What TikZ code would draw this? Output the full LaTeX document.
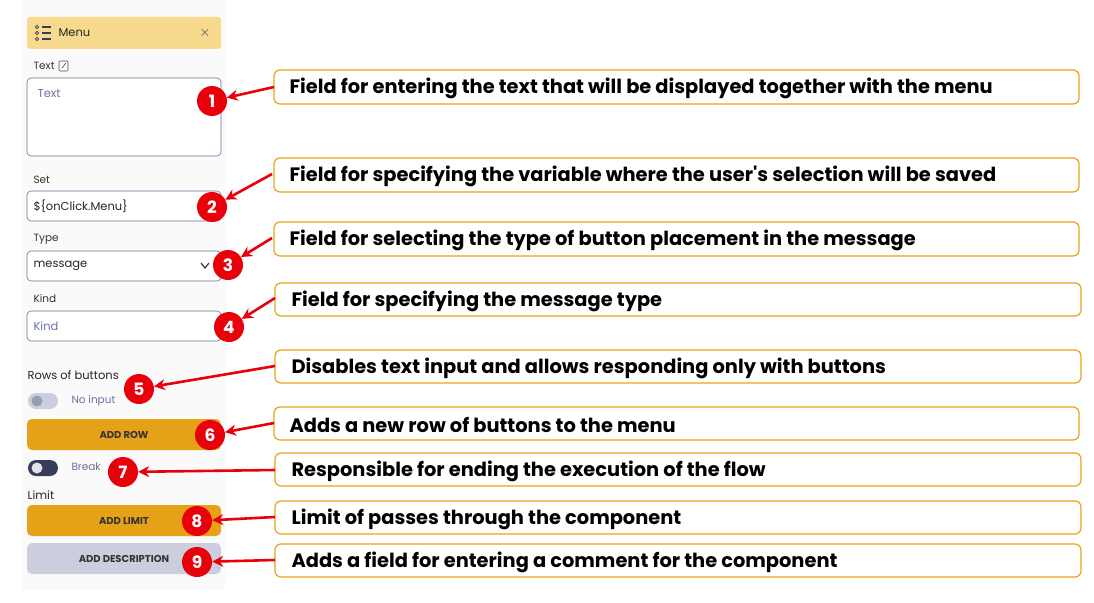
\documentclass[tikz,border=0pt]{standalone}
\usepackage{fontspec}
\setmainfont{Poppins}
\usetikzlibrary{arrows.meta}
\definecolor{hdr}{HTML}{F7DA8E}
\definecolor{amber}{HTML}{E5A118}
\definecolor{greybtn}{HTML}{CACEDD}
\definecolor{frame}{HTML}{6A7094}
\definecolor{hint}{HTML}{6A73A8}
\definecolor{knob}{HTML}{353D5A}
\definecolor{mark}{HTML}{E8000B}
\definecolor{callline}{HTML}{E8A317}
\tikzset{
  callout/.style={draw=callline, line width=1.2pt, rounded corners=6pt, fill=white},
  calltext/.style={anchor=west, yshift=-1.5pt, font=\fontsize{19.4}{21}\selectfont\bfseries},
  badge/.style={circle, fill=mark, text=white, minimum size=30pt, inner sep=0pt, font=\fontsize{17}{19}\selectfont\bfseries},
  pointer/.style={draw=mark, line width=2.6pt, -{Stealth[length=11pt,width=11pt]}},
  field/.style={draw=frame, line width=0.6pt, rounded corners=4pt, fill=white},
  small/.style={anchor=west, font=\fontsize{10.5}{12}\selectfont, text=black!80},
  mid/.style={anchor=west, font=\fontsize{11.5}{13}\selectfont, text=black!85},
  btn/.style={rounded corners=5pt, font=\fontsize{10}{12}\selectfont\bfseries, text=black!80}
}
\begin{document}
\begin{tikzpicture}[x=1pt,y=-1pt]
\useasboundingbox (0,0) rectangle (1094,602);
\fill[black!2] (22,0) rectangle (225,590);

% panel
\fill[hdr, rounded corners=3pt] (27,17) rectangle (221,49);
\node[mid] (menu) at (55,33) {Menu};
\foreach \yy in {27,33,39} {
  \draw[knob, line width=0.8pt] (37,\yy) circle (1.6pt);
  \draw[knob, line width=1.1pt] (42,\yy) -- (51,\yy);
}
\node[font=\fontsize{15}{16}\selectfont\bfseries, text=knob] (close) at (205,33) {$\times$};
\node[small] (ltext) at (30,66) {Text};
\draw[black!70, line width=0.6pt, rounded corners=1pt] (59,61) rectangle (68,71);
\draw[black!70, line width=0.6pt] (62,68) -- (66,63);
\draw[field] (27,78) rectangle (221,156);
\node[mid, text=hint] (ptext) at (34,94) {Text};
\node[small] (lset) at (30,180) {Set};
\draw[field] (27,191) rectangle (221,221);
\node[mid] (vset) at (30,206) {\$\{onClick.Menu\}};
\node[small] (ltype) at (30,239) {Type};
\draw[field] (27,251) rectangle (221,281);
\node[mid] (vtype) at (30,266) {message};
\draw[line width=1.2pt, knob] (201,263) -- (205,268) -- (209,263);
\node[small] (lkind) at (30,299) {Kind};
\draw[field] (27,311) rectangle (221,341);
\node[mid, text=hint] (pkind) at (30,326) {Kind};
\node[mid] (lrows) at (24,375) {Rows of buttons};
\fill[greybtn, rounded corners=8pt] (28,393) rectangle (58,409);
\fill[frame!70] (37,401) circle (5.5pt);
\node[small, text=hint] (noinput) at (68,401) {No input};
\node[btn, fill=amber, minimum width=194pt, minimum height=31pt] (addrow) at (124,434.5) {ADD ROW};
\fill[knob, rounded corners=8pt] (28,460) rectangle (58,476);
\fill[white!85!knob] (37,468) circle (5.5pt);
\node[small, text=frame] (break) at (68,467) {Break};
\node[mid] (llimit) at (24,495) {Limit};
\node[btn, fill=amber, minimum width=194pt, minimum height=31pt] (addlimit) at (124,520.5) {ADD LIMIT};
\node[btn, fill=greybtn, minimum width=194pt, minimum height=31pt] (adddesc) at (124,558.5) {ADD DESCRIPTION};

% callouts
\draw[callout] (274,70) rectangle (1079,104);  \node[calltext] (t1) at (286,87) {Field for entering the text that will be displayed together with the menu};
\draw[callout] (274,158) rectangle (1079,192); \node[calltext] (t2) at (286,175) {Field for specifying the variable where the user\textquotesingle s selection will be saved};
\draw[callout] (274,222) rectangle (1079,256); \node[calltext] (t3) at (286,239) {Field for selecting the type of button placement in the message};
\draw[callout] (275,283) rectangle (1081,316); \node[calltext] (t4) at (288,299.5) {Field for specifying the message type};
\draw[callout] (275,350) rectangle (1081,383); \node[calltext] (t5) at (288,366.5) {Disables text input and allows responding only with buttons};
\draw[callout] (274,407) rectangle (1079,440); \node[calltext] (t6) at (286,423.5) {Adds a new row of buttons to the menu};
\draw[callout] (275,453) rectangle (1081,486); \node[calltext] (t7) at (288,469.5) {Responsible for ending the execution of the flow};
\draw[callout] (275,501) rectangle (1081,534); \node[calltext] (t8) at (288,517.5) {Limit of passes through the component};
\draw[callout] (275,544) rectangle (1081,577); \node[calltext] (t9) at (288,560.5) {Adds a field for entering a comment for the component};

% badges
\node[badge] (b1) at (212,101) {1};
\node[badge] (b2) at (212,207) {2};
\node[badge] (b3) at (228,265) {3};
\node[badge] (b4) at (229,327) {4};
\node[badge] (b5) at (139,389) {5};
\node[badge] (b6) at (210,435) {6};
\node[badge] (b7) at (123,472) {7};
\node[badge] (b8) at (197,521) {8};
\node[badge] (b9) at (197,562) {9};

\coordinate (s1) at (274,87);  \coordinate (s2) at (272,174);
\coordinate (s3) at (272,238); \coordinate (s4) at (275,298);
\coordinate (s5) at (275,366); \coordinate (s6) at (274,423);
\coordinate (s7) at (275,470); \coordinate (s8) at (275,517);
\coordinate (s9) at (275,560);
\foreach \i in {1,...,9} \draw[pointer] (s\i) -- (b\i);
\end{tikzpicture}
\end{document}
